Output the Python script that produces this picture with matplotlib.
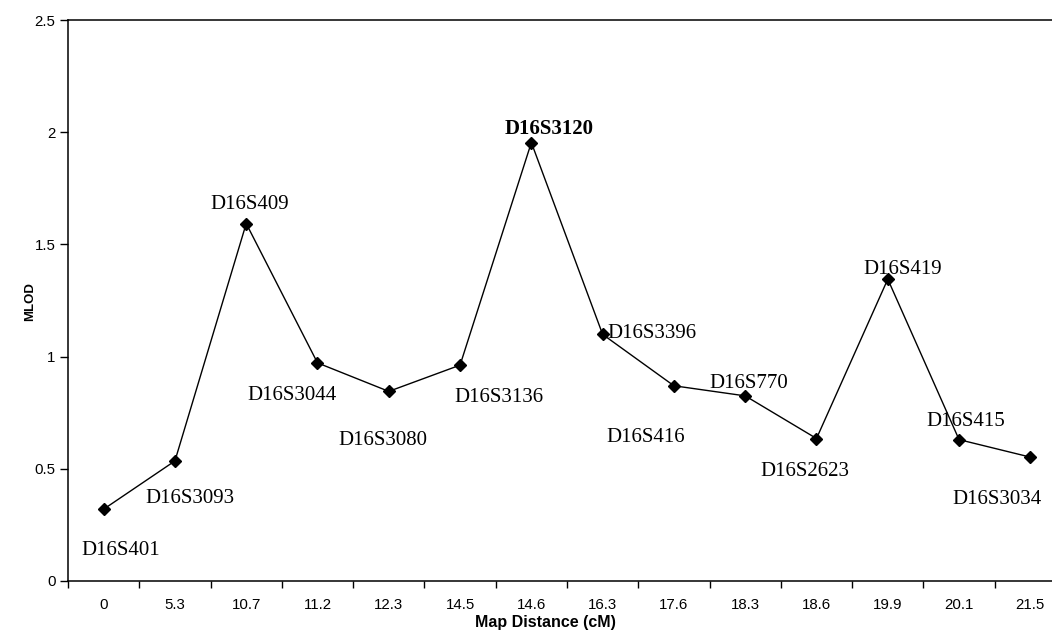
import matplotlib
matplotlib.use("Agg")
import matplotlib.pyplot as plt

# Data
positions_cm = ["0", "5.3", "10.7", "11.2", "12.3", "14.5", "14.6", "16.3",
                "17.6", "18.3", "18.6", "19.9", "20.1", "21.5"]
mlod = [0.32, 0.535, 1.593, 0.972, 0.845, 0.962, 1.954, 1.099,
        0.870, 0.825, 0.635, 1.345, 0.630, 0.552]
markers = ["D16S401", "D16S3093", "D16S409", "D16S3044", "D16S3080", "D16S3136",
           "D16S3120", "D16S3396", "D16S416", "D16S770", "D16S2623", "D16S419",
           "D16S415", "D16S3034"]
highlight = "D16S3120"

# label offsets (pixels, relative to point)
label_offsets = [(17, -41), (15, -38), (3, 19), (-25, -33), (-6, -49), (39, -32),
                 (18, 14), (49, 1), (-28, -52), (4, 12), (-12, -33), (15, 10),
                 (7, 18), (-33, -42)]

W, H = 1052, 638
fig = plt.figure(figsize=(W / 100, H / 100), dpi=100)
left, right, top, bottom = 68, 1066, 20, 581
ax = fig.add_axes([left / W, (H - bottom) / H, (right - left) / W, (bottom - top) / H])

x = list(range(len(positions_cm)))
ax.plot(x, mlod, color="black", lw=1.0, marker="D", markersize=6.3,
        markerfacecolor="black", markeredgecolor="black")

for xi, yi, name, (dx, dy) in zip(x, mlod, markers, label_offsets):
    ax.annotate(name, xy=(xi, yi), xytext=(dx, dy), textcoords="offset pixels",
                ha="center", va="center", family="Liberation Serif", fontsize=15,
                fontweight="bold" if name == highlight else "normal")

ax.set_xlim(-0.5, len(positions_cm) - 0.5)
ax.set_ylim(0, 2.5)

# category boundaries as major ticks, labels at centers
ax.set_xticks([i - 0.5 for i in range(len(positions_cm) + 1)])
ax.set_xticklabels([])
ax.set_xticks(x, minor=True)
ax.set_xticklabels(positions_cm, minor=True, family="Liberation Sans", fontsize=10.8)
ax.tick_params(axis="x", which="major", direction="out", length=5, width=1)
ax.tick_params(axis="x", which="minor", length=0, pad=12)

ax.set_yticks([0, 0.5, 1, 1.5, 2, 2.5])
ax.set_yticklabels(["0", "0.5", "1", "1.5", "2", "2.5"], family="Liberation Sans", fontsize=10.8)
ax.tick_params(axis="y", direction="out", length=6, width=1, pad=3)

for s in ["left", "bottom", "top"]:
    ax.spines[s].set_color("black")
    ax.spines[s].set_linewidth(1.1)
ax.spines["right"].set_visible(False)

fig.text(30 / W, 1 - 302 / H, "MLOD", rotation=90, ha="center", va="center",
         family="Liberation Sans", fontweight="bold", fontsize=9.5)
fig.text(545 / W, 1 - 623 / H, "Map Distance (cM)", ha="center", va="center",
         family="Liberation Sans", fontweight="bold", fontsize=11.5)

fig.savefig("out.png", dpi=100)
